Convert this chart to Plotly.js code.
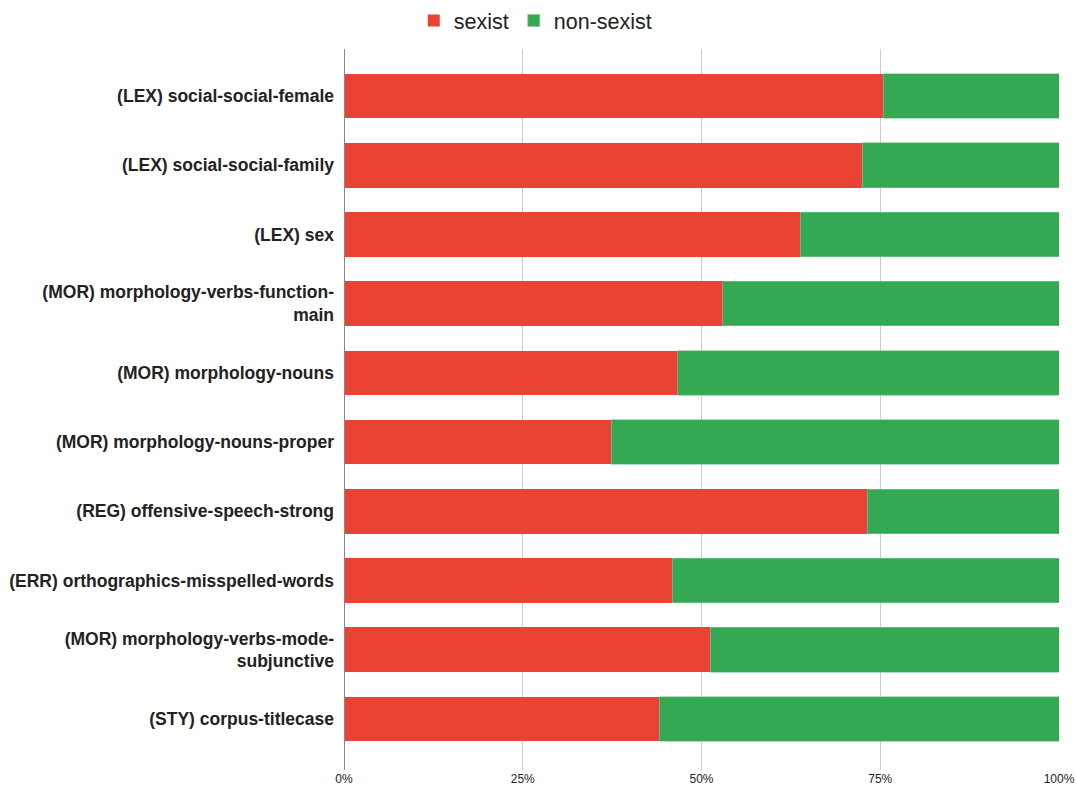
<!DOCTYPE html>
<html>
<head>
<meta charset="utf-8">
<script src="https://cdn.plot.ly/plotly-3.0.1.min.js"></script>
<style>
  html, body { margin: 0; padding: 0; background: #fff; }
  #chart { width: 1077px; height: 787px; }
</style>
</head>
<body>
<div id="chart"></div>
<script>
// Feature categories, top to bottom
const categories = [
  "(LEX) social-social-female",
  "(LEX) social-social-family",
  "(LEX) sex",
  "(MOR) morphology-verbs-function-<br>main",
  "(MOR) morphology-nouns",
  "(MOR) morphology-nouns-proper",
  "(REG) offensive-speech-strong",
  "(ERR) orthographics-misspelled-words",
  "(MOR) morphology-verbs-mode-<br>subjunctive",
  "(STY) corpus-titlecase"
];

// Share of sentences (%) per class
const sexist =    [75.4, 72.5, 63.8, 53.0, 46.7, 37.4, 73.2, 45.9, 51.2, 44.1];
const nonSexist = [24.6, 27.5, 36.2, 47.0, 53.3, 62.6, 26.8, 54.1, 48.8, 55.9];

const xTicks = [0, 25, 50, 75, 100];

const FONT = "'Liberation Sans', Arial, sans-serif";

const traces = [
  {
    type: "bar", orientation: "h", name: "sexist",
    x: sexist, y: categories,
    marker: { color: "#EA4335" },
    hoverinfo: "x+y"
  },
  {
    type: "bar", orientation: "h", name: "non-sexist",
    x: nonSexist, y: categories,
    marker: { color: "#34A853", line: { color: "#7fcb92", width: 0.6 } },
    hoverinfo: "x+y"
  }
];

const layout = {
  width: 1077, height: 787,
  margin: { l: 344, r: 18, t: 49, b: 17 },
  paper_bgcolor: "#ffffff",
  plot_bgcolor: "#ffffff",
  barmode: "stack",
  bargap: 0.355,
  font: { family: FONT, color: "#222222" },
  showlegend: true,
  legend: {
    orientation: "h",
    xref: "container", yref: "container",
    x: 0.497, xanchor: "center",
    y: 1, yanchor: "top",
    font: { family: FONT, size: 21.5, color: "#222222" },
    itemclick: false,
    traceorder: "normal"
  },
  xaxis: {
    range: [0, 100],
    tickvals: xTicks,
    ticktext: xTicks.map(v => v + "%"),
    showgrid: true,
    gridcolor: "#cccccc",
    gridwidth: 1,
    zeroline: false,
    showline: false,
    ticks: "",
    tickfont: { family: FONT, size: 12, color: "#222222" },
    fixedrange: true
  },
  yaxis: {
    type: "category",
    range: [9.737, -0.679],
    showgrid: false,
    zeroline: false,
    showline: false,
    ticks: "",
    ticklabelstandoff: 9,
    tickfont: { family: FONT, size: 17.5, color: "#222222", weight: "bold" },
    fixedrange: true
  },
  shapes: [
    {
      type: "line", xref: "x", yref: "paper",
      x0: 0, x1: 0, y0: 0, y1: 1,
      line: { color: "#888888", width: 2 },
      layer: "above"
    }
  ]
};

Plotly.newPlot("chart", traces, layout, { displayModeBar: false, staticPlot: true });
</script>
</body>
</html>
